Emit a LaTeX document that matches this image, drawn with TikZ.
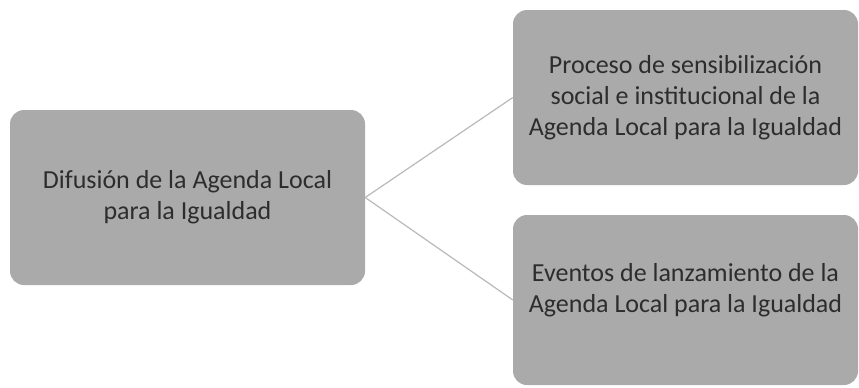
\documentclass[tikz,border=0pt]{standalone}
\usepackage{fontspec}
\setmainfont{Carlito}
\usepackage{tikz}
\usetikzlibrary{positioning}
\definecolor{boxgray}{RGB}{170,170,170}
\definecolor{textgray}{RGB}{45,45,45}
\definecolor{linegray}{RGB}{185,185,185}

\begin{document}
\begin{tikzpicture}[x=1pt, y=-1pt, font=\fontsize{26}{31}\selectfont, text=textgray,
  gbox/.style={fill=boxgray, rounded corners=14pt, align=center, inner sep=0pt},
  link/.style={draw=linegray, line width=1.2pt}]

\useasboundingbox (0,0) rectangle (859,388);

\node[gbox, minimum width=355, minimum height=175] (difusion) at (187.5,197.5) {Difusión de la Agenda Local\\para la Igualdad};
\node[gbox, minimum width=345, minimum height=175] (proceso) at (685.5,97.5) {Proceso de sensibilización\\social e institucional de la\\Agenda Local para la Igualdad};
\node[gbox, minimum width=345, minimum height=170] (eventos) at (685.5,300) {};
\node[align=center] (eventostxt) at ([yshift=10]eventos.center) {Eventos de lanzamiento de la\\Agenda Local para la Igualdad};

\draw[link] (difusion.east) -- (proceso.west);
\draw[link] (difusion.east) -- (eventos.west);

\end{tikzpicture}
\end{document}
